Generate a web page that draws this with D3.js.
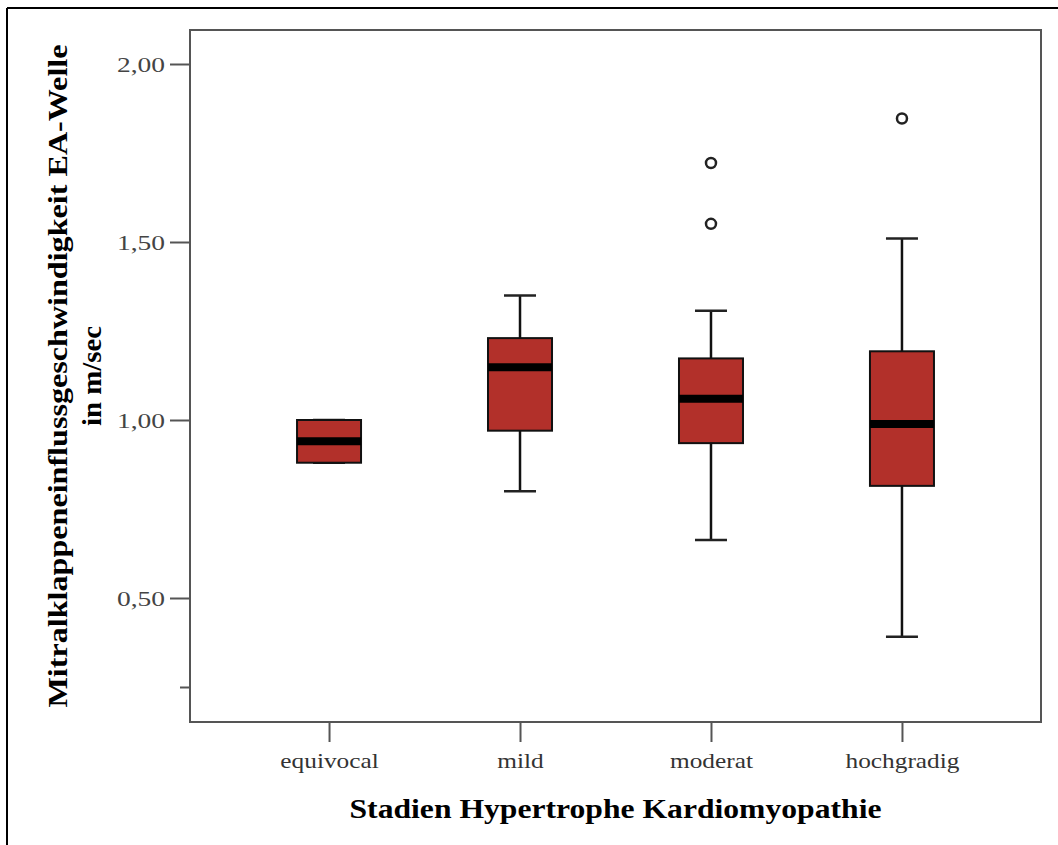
<!DOCTYPE html>
<html>
<head>
<meta charset="utf-8">
<script src="https://cdn.jsdelivr.net/npm/d3@7"></script>
<style>
  html, body { margin: 0; padding: 0; background: #fff; }
  svg { display: block; }
</style>
</head>
<body>
<svg id="chart" width="1058" height="845"></svg>
<script>
// Stages of hypertrophic cardiomyopathy
const categories = ["equivocal", "mild", "moderat", "hochgradig"];
// Box-plot statistics per stage (m/sec)
const whiskerLow  = [0.88, 0.80, 0.663, 0.391];
const q1          = [0.88, 0.970, 0.935, 0.815];
const median      = [0.94, 1.148, 1.060, 0.989];
const q3          = [1.00, 1.230, 1.173, 1.193];
const whiskerHigh = [1.00, 1.350, 1.307, 1.510];
// Outliers: [stage, value]
const outliers = [["moderat", 1.551], ["moderat", 1.722], ["hochgradig", 1.847]];
// Y axis ticks
const yTicks = [0.5, 1.0, 1.5, 2.0];
const yMinorTicks = [0.25];

const serif = "'Liberation Serif', 'Times New Roman', serif";
const svg = d3.select("#chart");

const plot = { left: 190, top: 30, right: 1041, bottom: 722 };

const y = d3.scaleLinear()
  .domain([0.5 - (plot.bottom - 598) / 356, 2.0 + (64 - plot.top) / 356])
  .range([plot.bottom, plot.top]);

const x = d3.scalePoint()
  .domain(categories)
  .range([plot.left, plot.right])
  .padding(0.728);

// widen glyph spacing of a text selection by a factor
function spread(sel, factor) {
  sel.each(function () {
    const len = this.getComputedTextLength();
    d3.select(this).attr("textLength", len * factor).attr("lengthAdjust", "spacingAndGlyphs");
  });
}

// outer frame (left and top edges)
svg.append("line").attr("x1", 7).attr("x2", 7).attr("y1", 8).attr("y2", 845)
  .attr("stroke", "#000").attr("stroke-width", 2);
svg.append("line").attr("x1", 7).attr("x2", 1058).attr("y1", 8).attr("y2", 8)
  .attr("stroke", "#000").attr("stroke-width", 2);

// plot area frame
svg.append("rect")
  .attr("x", plot.left).attr("y", plot.top)
  .attr("width", plot.right - plot.left).attr("height", plot.bottom - plot.top)
  .attr("fill", "none").attr("stroke", "#555").attr("stroke-width", 2);

const fmt = d => d3.format(".2f")(d).replace(".", ",");

// y axis
const yAxis = d3.axisLeft(y).tickValues(yTicks).tickFormat(fmt).tickSize(20).tickPadding(5);
const gy = svg.append("g").attr("transform", `translate(${plot.left},0)`).call(yAxis);
gy.select(".domain").remove();
gy.selectAll(".tick line").attr("stroke", "#555").attr("stroke-width", 2);
gy.selectAll(".tick text")
  .attr("fill", "#444")
  .style("font-family", serif)
  .style("font-size", "22px")
  .call(spread, 1.25);

const yMinor = d3.axisLeft(y).tickValues(yMinorTicks).tickFormat("").tickSize(10);
const gym = svg.append("g").attr("transform", `translate(${plot.left},0)`).call(yMinor);
gym.select(".domain").remove();
gym.selectAll(".tick line").attr("stroke", "#555").attr("stroke-width", 2);

// x axis
const xAxis = d3.axisBottom(x).tickSize(20).tickPadding(10);
const gx = svg.append("g").attr("transform", `translate(0,${plot.bottom})`).call(xAxis);
gx.select(".domain").remove();
gx.selectAll(".tick line").attr("stroke", "#555").attr("stroke-width", 2);
gx.selectAll(".tick text")
  .attr("fill", "#333")
  .style("font-family", serif)
  .style("font-size", "22px")
  .call(spread, 1.15);

// box plots
const boxW = 64, capW = 32;
const stats = categories.map((c, i) => ({
  c, lo: whiskerLow[i], q1: q1[i], med: median[i], q3: q3[i], hi: whiskerHigh[i]
}));

const g = svg.append("g");
stats.forEach(s => {
  const cx = x(s.c);
  // whiskers
  g.append("line").attr("x1", cx).attr("x2", cx).attr("y1", y(s.q3)).attr("y2", y(s.hi))
    .attr("stroke", "#111").attr("stroke-width", 2.5);
  g.append("line").attr("x1", cx).attr("x2", cx).attr("y1", y(s.q1)).attr("y2", y(s.lo))
    .attr("stroke", "#111").attr("stroke-width", 2.5);
  g.append("line").attr("x1", cx - capW / 2).attr("x2", cx + capW / 2).attr("y1", y(s.hi)).attr("y2", y(s.hi))
    .attr("stroke", "#222").attr("stroke-width", 2.5);
  g.append("line").attr("x1", cx - capW / 2).attr("x2", cx + capW / 2).attr("y1", y(s.lo)).attr("y2", y(s.lo))
    .attr("stroke", "#222").attr("stroke-width", 2.5);
  // box
  g.append("rect")
    .attr("x", cx - boxW / 2).attr("y", y(s.q3))
    .attr("width", boxW).attr("height", y(s.q1) - y(s.q3))
    .attr("fill", "#b2302a").attr("stroke", "#111").attr("stroke-width", 2);
  // median
  g.append("line").attr("x1", cx - boxW / 2).attr("x2", cx + boxW / 2)
    .attr("y1", y(s.med)).attr("y2", y(s.med))
    .attr("stroke", "#000").attr("stroke-width", 8);
});

// outliers
g.selectAll("circle.outlier").data(outliers).enter().append("circle")
  .attr("class", "outlier")
  .attr("cx", d => x(d[0])).attr("cy", d => y(d[1])).attr("r", 5)
  .attr("fill", "#fff").attr("stroke", "#222").attr("stroke-width", 2.5);

// axis titles
svg.append("text")
  .attr("x", (plot.left + plot.right) / 2).attr("y", 818)
  .attr("text-anchor", "middle")
  .style("font-family", serif)
  .style("font-size", "28px").style("font-weight", "bold")
  .attr("textLength", 532).attr("lengthAdjust", "spacingAndGlyphs")
  .text("Stadien Hypertrophe Kardiomyopathie");

const yt = svg.append("text")
  .attr("transform", `translate(0,${(plot.top + plot.bottom) / 2}) rotate(-90)`)
  .attr("text-anchor", "middle")
  .style("font-family", serif)
  .style("font-size", "27px").style("font-weight", "bold");
yt.append("tspan").attr("x", 0).attr("y", 67)
  .attr("textLength", 663).attr("lengthAdjust", "spacingAndGlyphs")
  .text("Mitralklappeneinflussgeschwindigkeit EA-Welle");
yt.append("tspan").attr("x", 0).attr("y", 101)
  .attr("textLength", 100).attr("lengthAdjust", "spacingAndGlyphs")
  .text("in m/sec");
</script>
</body>
</html>
